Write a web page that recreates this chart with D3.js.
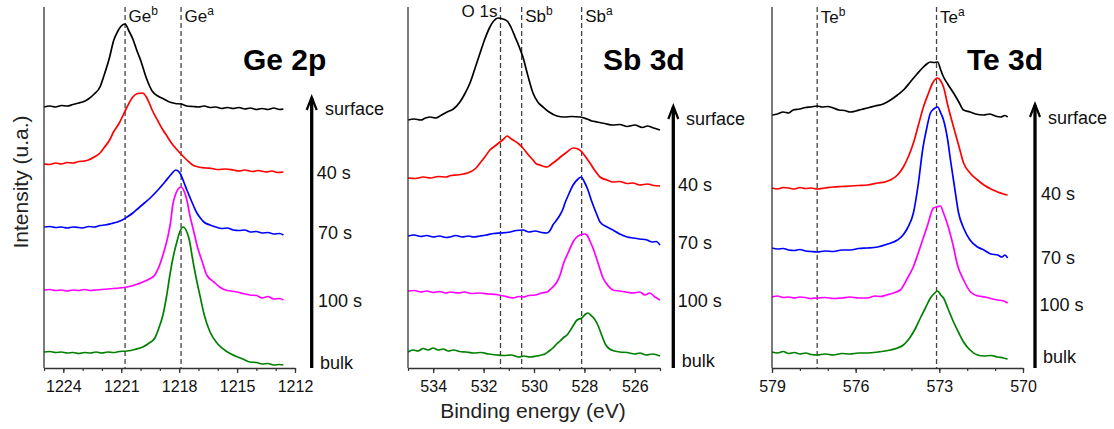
<!DOCTYPE html>
<html><head><meta charset="utf-8">
<script src="https://cdn.jsdelivr.net/npm/d3@7"></script>
<style>body{margin:0;background:#fff} svg{display:block;font-family:Arial,"Liberation Sans",sans-serif}</style>
</head><body><svg id="c" width="1114" height="429"></svg>
<script>
const seriesLabels = ["surface","40 s","70 s","100 s","bulk"];
const seriesColors = ["#000000","#ff0000","#0000ff","#ff00ff","#008000"];
const geTicks = [1224,1221,1218,1215,1212];
const sbTicks = [534,532,530,528,526];
const teTicks = [579,576,573,570];

// Ge 2p  [binding energy (eV), intensity (a.u.)]
const geSurface = [[1225.0,261],[1224.7,262],[1224.4,261],[1224.1,262.5],[1223.8,262],[1223.5,263.5],[1223.2,265],[1223.0,266],[1222.7,269],[1222.4,274],[1222.1,281],[1221.9,292],[1221.6,311],[1221.4,327],[1221.2,336],[1221.0,342],[1220.8,344],[1220.6,337],[1220.4,329],[1220.2,318],[1220.0,308],[1219.7,290],[1219.4,277],[1219.1,272],[1218.8,269],[1218.5,266],[1218.2,264.5],[1217.9,264],[1217.6,262],[1217.3,261.5],[1217.0,261],[1216.7,262],[1216.4,260.5],[1216.1,261],[1215.8,259.5],[1215.5,260.5],[1215.2,259.5],[1214.9,260.5],[1214.6,259],[1214.3,260],[1214.0,258.5],[1213.7,259.5],[1213.4,258.5],[1213.1,260],[1212.8,258.5],[1212.6,259]];
const ge40s = [[1225.0,204],[1224.7,203.5],[1224.4,205],[1224.1,204],[1223.8,205.5],[1223.5,205],[1223.2,206.5],[1222.9,207],[1222.7,208],[1222.4,211],[1222.1,215],[1221.9,220],[1221.6,228],[1221.4,236],[1221.1,245],[1220.9,253],[1220.7,261],[1220.4,271],[1220.15,274.5],[1219.9,275],[1219.7,271],[1219.55,265],[1219.4,258],[1219.1,247],[1218.84,238],[1218.6,231],[1218.4,225],[1218.1,218],[1217.86,213],[1217.6,208],[1217.3,203],[1217.0,201],[1216.6,200],[1216.3,199.5],[1216.0,198.5],[1215.6,199],[1215.2,198],[1214.9,197],[1214.6,198],[1214.2,196.5],[1213.9,197.5],[1213.5,196],[1213.2,197],[1212.9,195.5],[1212.6,196]];
const ge70s = [[1225.0,141],[1224.7,141.5],[1224.4,140.5],[1224.1,141],[1223.8,140],[1223.5,141],[1223.2,140.5],[1223.0,140],[1222.7,141.5],[1222.4,141],[1222.1,142.5],[1221.85,143],[1221.5,144.5],[1221.2,146],[1220.95,148],[1220.7,151],[1220.4,155],[1220.1,160],[1219.8,165],[1219.5,170],[1219.1,178],[1218.74,186],[1218.4,194],[1218.17,198],[1217.96,195],[1217.76,186],[1217.6,178],[1217.45,171],[1217.25,162],[1217.08,155],[1216.9,150],[1216.72,146],[1216.4,143],[1216.1,141],[1215.8,139.5],[1215.5,140],[1215.2,138],[1214.9,137.5],[1214.6,138],[1214.3,136],[1214.0,136.5],[1213.7,135],[1213.4,135.5],[1213.1,134],[1212.8,134.5],[1212.6,133]];
const ge100s = [[1225.0,78],[1224.7,78.5],[1224.4,77.5],[1224.1,78],[1223.8,77],[1223.5,78],[1223.2,77.5],[1222.9,78.5],[1222.6,77.5],[1222.3,78],[1222.0,78.5],[1221.7,79],[1221.4,79.5],[1221.1,80],[1220.7,81],[1220.3,83],[1219.88,86],[1219.55,89],[1219.26,93],[1219.05,101],[1218.84,113],[1218.6,130],[1218.45,145],[1218.33,163],[1218.2,173],[1218.05,179],[1217.9,181],[1217.75,177],[1217.6,168],[1217.45,153],[1217.25,137],[1217.08,123],[1216.8,106],[1216.57,93],[1216.2,86],[1215.9,81],[1215.6,78],[1215.3,77],[1215.0,76],[1214.7,74.5],[1214.34,73],[1214.0,72.5],[1213.7,70],[1213.4,71.5],[1213.1,69],[1212.8,69.5],[1212.6,68]];
const geBulk = [[1225.0,16],[1224.7,16.5],[1224.4,15.5],[1224.1,16],[1223.8,15],[1223.5,15.5],[1223.2,14.5],[1222.9,15.5],[1222.6,15],[1222.3,16],[1222.0,15],[1221.7,16],[1221.4,15.5],[1221.1,16.5],[1220.7,17],[1220.3,18.5],[1219.88,21],[1219.55,25],[1219.26,30],[1219.05,40],[1218.84,53],[1218.65,72],[1218.48,93],[1218.3,112],[1218.12,126],[1217.95,137],[1217.8,141],[1217.6,136],[1217.45,126],[1217.34,113],[1217.15,93],[1216.93,73],[1216.7,53],[1216.4,36],[1216.0,24],[1215.5,16],[1215.1,12],[1214.7,9],[1214.34,6],[1214.0,5.5],[1213.7,4],[1213.4,4.5],[1213.1,3],[1212.8,3.5],[1212.6,3]];

// Sb 3d
const sbSurface = [[535.0,248],[534.75,249],[534.5,248],[534.3,250],[534.13,251],[533.9,250],[533.7,252.5],[533.45,256],[533.2,259],[532.94,266],[532.75,274],[532.54,285],[532.35,299],[532.14,315],[531.95,329],[531.75,341],[531.6,347],[531.43,350],[531.23,349],[531.03,346],[530.9,340],[530.75,331],[530.6,322],[530.44,311],[530.25,293],[530.04,275],[529.85,266],[529.64,261],[529.4,256],[529.09,252],[528.8,251],[528.5,251.5],[528.17,251],[527.9,249],[527.7,247],[527.5,246],[527.2,244.5],[526.87,243],[526.6,243.5],[526.3,241.5],[526.0,243],[525.7,240.5],[525.5,242],[525.25,240],[525.0,238]];
const sb40s = [[535.0,190],[534.7,189.5],[534.4,191],[534.1,190],[533.8,191.5],[533.5,191],[533.3,192.5],[533.06,193],[532.8,194],[532.54,196],[532.3,200],[532.14,205],[531.95,211],[531.75,218],[531.55,222],[531.35,226],[531.2,229],[531.07,232],[530.95,230],[530.83,228],[530.6,224],[530.44,220],[530.25,214],[530.04,208],[529.9,204],[529.76,203],[529.6,201.5],[529.48,201],[529.3,204],[529.09,208],[528.9,212],[528.69,216],[528.45,220],[528.25,219],[528.1,216],[527.95,211],[527.78,205],[527.6,198],[527.38,191],[527.1,188],[526.87,186],[526.6,186.5],[526.3,184.5],[526.07,185],[525.8,183],[525.5,184],[525.25,182.5],[525.0,182]];
const sb70s = [[535.0,132],[534.75,133],[534.5,131.5],[534.25,132.5],[534.0,131],[533.75,132],[533.5,130.5],[533.33,131],[533.1,132.5],[532.85,131],[532.6,132],[532.4,131],[532.14,132],[531.9,133],[531.6,134.5],[531.3,135],[530.95,136],[530.7,137.5],[530.44,138],[530.2,136],[529.95,137],[529.7,135.5],[529.48,135],[529.35,138],[529.25,143],[529.1,148],[528.97,153],[528.85,159],[528.77,165],[528.6,175],[528.45,183],[528.25,189],[528.13,191],[528.0,186],[527.86,178],[527.7,166],[527.5,153],[527.38,146],[527.1,141],[526.87,138],[526.6,134],[526.3,131],[526.07,130],[525.8,129],[525.52,128],[525.3,126],[525.15,126.5],[525.0,123]];
const sb100s = [[535.0,77],[534.75,77.5],[534.5,76],[534.25,77],[534.0,75.5],[533.75,76.5],[533.5,75],[533.33,76],[533.0,75],[532.75,76],[532.5,74.5],[532.14,75],[531.8,74],[531.5,73.5],[531.2,72],[530.95,70.5],[530.83,70],[530.6,71.5],[530.44,71],[530.2,72.5],[529.95,73],[529.7,75],[529.48,76],[529.3,80],[529.09,86],[528.95,94],[528.85,103],[528.65,115],[528.45,126],[528.3,131],[528.17,133],[528.0,134],[527.9,133],[527.78,127],[527.66,120],[527.46,105],[527.26,90],[527.05,82],[526.87,78],[526.6,77],[526.35,76],[526.07,75],[525.8,76],[525.6,73],[525.4,75],[525.2,71],[525.0,68]];
const sbBulk = [[535.0,16],[534.8,18],[534.6,17],[534.4,19.5],[534.2,18],[534.0,20],[533.8,18],[533.6,19],[533.4,17],[533.2,18],[532.95,16.5],[532.7,16],[532.4,15],[532.1,15.5],[531.8,14],[531.47,13],[531.2,12.5],[530.9,13],[530.6,11],[530.4,12],[530.16,11],[529.9,12],[529.7,13],[529.56,14],[529.4,17],[529.25,20],[529.1,24],[528.97,27],[528.8,31],[528.69,33],[528.5,40],[528.29,48],[528.1,50],[527.95,54],[527.86,55],[527.75,53],[527.6,49],[527.45,42],[527.3,32],[527.15,23],[527.0,19],[526.8,17],[526.59,16],[526.3,15.5],[526.0,14],[525.8,15],[525.55,13],[525.3,14],[525.0,12]];

// Te 3d
const teSurface = [[579.0,253],[578.8,254],[578.6,256],[578.4,255],[578.24,258],[578.0,259],[577.8,260.5],[577.6,261],[577.38,262],[577.2,261],[577.0,261.5],[576.8,260],[576.6,258],[576.4,257.5],[576.19,256],[576.0,257],[575.8,258.5],[575.58,260],[575.3,262],[575.01,264],[574.75,268],[574.5,273],[574.25,279],[574.04,286],[573.8,294],[573.57,301],[573.45,304],[573.32,306],[573.2,305.5],[573.06,306],[572.95,298],[572.85,291],[572.7,284],[572.49,275],[572.3,266],[572.13,258],[571.9,256],[571.7,254],[571.41,253],[571.2,254],[571.0,252],[570.8,251],[570.65,252.5],[570.55,251]];
const te40s = [[579.0,180],[578.8,179],[578.6,180.5],[578.4,180],[578.2,179],[578.0,180.5],[577.8,179.5],[577.6,180],[577.38,179],[577.1,180],[576.8,181],[576.5,181.5],[576.19,182],[575.9,182.5],[575.58,183],[575.2,185],[574.95,186],[574.76,188],[574.5,193],[574.29,201],[574.1,212],[573.93,225],[573.75,243],[573.57,261],[573.4,274],[573.24,285],[573.06,290],[572.95,287],[572.85,281],[572.7,263],[572.49,241],[572.3,222],[572.13,205],[571.9,195],[571.63,188],[571.4,183],[571.15,179],[570.91,176],[570.7,174],[570.55,173]];
const te70s = [[579.0,120],[578.8,119],[578.6,119.5],[578.4,118],[578.2,117.5],[578.0,118.5],[577.8,117],[577.6,116.5],[577.38,116],[577.1,117],[576.8,116.5],[576.5,118],[576.19,118],[575.9,119.5],[575.58,120],[575.22,121],[574.85,124],[574.5,128],[574.3,133],[574.14,140],[573.93,155],[573.75,185],[573.6,218],[573.45,240],[573.32,255],[573.2,259],[573.06,261],[572.95,255],[572.85,248],[572.7,228],[572.6,208],[572.45,180],[572.31,155],[572.13,140],[571.9,128],[571.63,121],[571.4,118],[571.15,114],[570.91,113],[570.75,111],[570.65,113],[570.55,110]];
const te100s = [[579.0,71],[578.8,72],[578.6,70.5],[578.4,71],[578.2,70],[578.0,71],[577.8,70.5],[577.6,69.5],[577.38,70],[577.1,70.5],[576.8,69.5],[576.5,70],[576.2,71],[575.9,70],[575.58,70],[575.3,72],[575.1,71.5],[574.9,73],[574.76,74],[574.55,76],[574.4,78],[574.14,90],[573.95,100],[573.78,113],[573.6,128],[573.42,143],[573.21,160],[573.1,161],[572.96,162],[572.85,155],[572.7,143],[572.5,122],[572.35,103],[572.13,88],[571.88,76],[571.6,72],[571.35,71],[571.1,69],[570.91,68],[570.7,67],[570.55,65]];
const teBulk = [[579.0,16],[578.8,15],[578.6,16.5],[578.4,14.5],[578.2,15.5],[578.0,14],[577.8,15],[577.6,13.5],[577.38,13],[577.1,14],[576.8,13],[576.5,14.5],[576.2,14],[575.9,15],[575.58,15],[575.2,16],[574.95,17],[574.76,18],[574.5,20],[574.29,23],[574.15,27],[574.04,31],[573.85,40],[573.68,50],[573.5,60],[573.32,70],[573.2,74],[573.06,77],[572.95,73],[572.85,70],[572.7,60],[572.49,46],[572.3,35],[572.13,26],[571.9,18],[571.63,13],[571.4,12],[571.15,12.5],[570.91,11],[570.7,10],[570.55,9]];

// reference energies
const geRefs = [{e:1220.8,name:"Ge",sup:"b"},{e:1217.9,name:"Ge",sup:"a"}];
const sbRefs = [{e:531.33,name:"O 1s",sup:"",left:true},{e:530.49,name:"Sb",sup:"b"},{e:528.11,name:"Sb",sup:"a"}];
const teRefs = [{e:577.38,name:"Te",sup:"b"},{e:573.1,name:"Te",sup:"a"}];

// ---------- layout ----------
const TOP = 7, BOTTOM = 368;
const panels = [
  {title:"Ge 2p", titleX:243, series:[geSurface,ge40s,ge70s,ge100s,geBulk], domain:[1225,1212], range:[44,295],
   ticks:geTicks, minor:d3.range(1225,1211.5,-1), refs:geRefs, refY:22,
   arrowX:311.7, arrowTop:97, lx:[325,316.7,318,318,320], ly:[108,172,232,300,362]},
  {title:"Sb 3d", titleX:603, series:[sbSurface,sb40s,sb70s,sb100s,sbBulk], domain:[535,525], range:[408,660],
   ticks:sbTicks, minor:d3.range(535,524.5,-1), refs:sbRefs, refY:22,
   arrowX:673.3, arrowTop:106, lx:[686,678,678,677.7,681.7], ly:[118,184,242,300,360]},
  {title:"Te 3d", titleX:967, series:[teSurface,te40s,te70s,te100s,teBulk], domain:[579,570], range:[772,1023],
   ticks:teTicks, minor:d3.range(579,569.5,-1), refs:teRefs, refY:23,
   arrowX:1035, arrowTop:104, lx:[1048,1041,1041,1039.5,1043], ly:[117,193,257,304,356]}
];

const svg = d3.select("#c");
const y = d3.scaleLinear().domain([0,361]).range([BOTTOM, TOP]);

panels.forEach(p => {
  const x = d3.scaleLinear().domain(p.domain).range(p.range);
  const g = svg.append("g");

  // reference dashed lines
  p.refs.forEach(r => {
    const xx = x(r.e);
    g.append("line").attr("x1",xx).attr("x2",xx).attr("y1",TOP).attr("y2",BOTTOM)
      .attr("stroke","#444").attr("stroke-width",1.3).attr("stroke-dasharray","5,3");
    const t = g.append("text").attr("font-size",17).attr("fill","#111");
    if (r.left) {
      t.attr("x", xx - 3).attr("y", 17).attr("text-anchor","end").text(r.name);
    } else {
      t.attr("x", xx + 3.5).attr("y", p.refY);
      t.append("tspan").text(r.name);
      t.append("tspan").attr("font-size",12).attr("dy",-7).text(r.sup);
    }
  });

  // curves
  const line = d3.line().x(d => x(d[0])).y(d => y(d[1])).curve(d3.curveMonotoneX);
  p.series.forEach((s,i) => {
    g.append("path").datum(s).attr("d", line).attr("fill","none")
      .attr("stroke", seriesColors[i]).attr("stroke-width",1.7).attr("stroke-linejoin","round");
  });

  // y axis line
  g.append("line").attr("x1",p.range[0]).attr("x2",p.range[0]).attr("y1",TOP).attr("y2",BOTTOM)
    .attr("stroke","#333").attr("stroke-width",1.3);

  // x axis
  const minorAxis = d3.axisBottom(x).tickValues(p.minor).tickSize(3).tickSizeOuter(0).tickFormat("");
  const gm = g.append("g").attr("transform",`translate(0,${BOTTOM})`).call(minorAxis);
  gm.select(".domain").attr("stroke","#333").attr("stroke-width",1.3);
  gm.selectAll(".tick line").attr("stroke","#333").attr("stroke-width",1.2);
  const majorAxis = d3.axisBottom(x).tickValues(p.ticks).tickSize(5).tickSizeOuter(0).tickFormat(d3.format("d"));
  const ga = g.append("g").attr("transform",`translate(0,${BOTTOM})`).call(majorAxis);
  ga.select(".domain").remove();
  ga.selectAll(".tick line").attr("stroke","#333").attr("stroke-width",1.3);
  ga.attr("font-size",16).attr("font-family","Arial, 'Liberation Sans', sans-serif");
  ga.selectAll(".tick text").attr("fill","#111").attr("y",13);

  // title
  g.append("text").attr("x",p.titleX).attr("y",70).attr("font-size",30).attr("font-weight","bold")
    .attr("fill","#000").text(p.title);

  // arrow
  g.append("line").attr("x1",p.arrowX).attr("x2",p.arrowX).attr("y1",p.arrowTop+1).attr("y2",BOTTOM)
    .attr("stroke","#000").attr("stroke-width",3.3);
  g.append("path").attr("d",`M${p.arrowX-5},${p.arrowTop+13} L${p.arrowX},${p.arrowTop} L${p.arrowX+5},${p.arrowTop+13}`)
    .attr("fill","none").attr("stroke","#000").attr("stroke-width",2.2);

  // series labels
  seriesLabels.forEach((lab,i) => {
    g.append("text").attr("x",p.lx[i]).attr("y",p.ly[i]+6.5).attr("font-size",18).attr("fill","#111").text(lab);
  });
});

// axis titles
svg.append("text").attr("transform","translate(28,182) rotate(-90)").attr("text-anchor","middle")
  .attr("font-size",21).attr("fill","#222").text("Intensity (u.a.)");
svg.append("text").attr("x",533).attr("y",418).attr("text-anchor","middle")
  .attr("font-size",21).attr("fill","#222").text("Binding energy (eV)");
</script>
</body></html>
